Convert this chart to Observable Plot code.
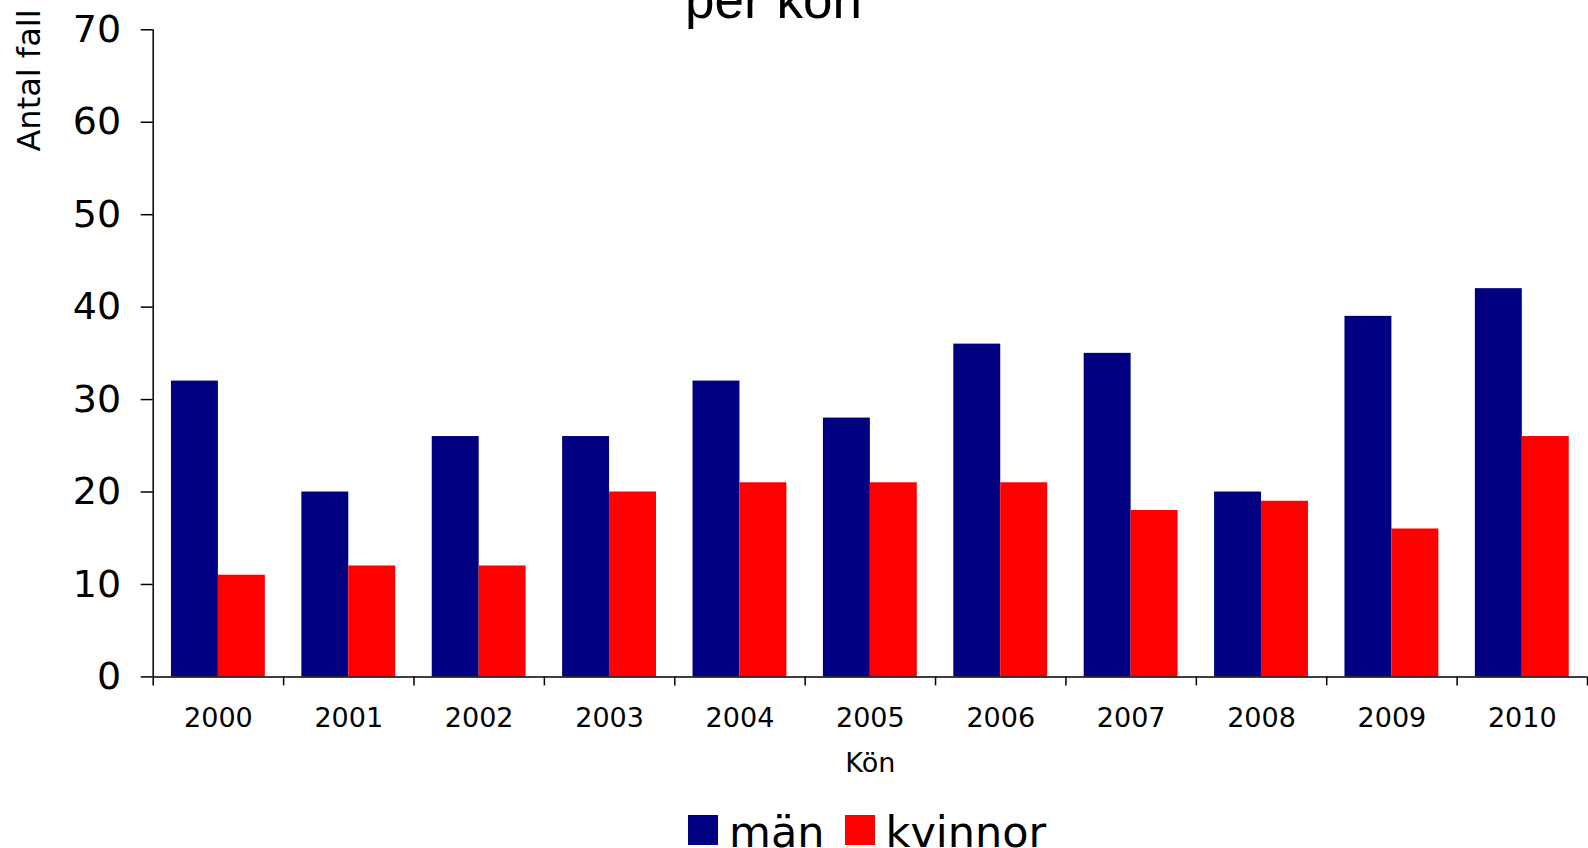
<!DOCTYPE html>
<html>
<head>
<meta charset="utf-8">
<script src="https://cdn.jsdelivr.net/npm/d3@7"></script>
<script src="https://cdn.jsdelivr.net/npm/@observablehq/plot@0.6"></script>
<style>
  html, body { margin: 0; padding: 0; background: #fff; overflow: hidden; }
  #wrap { position: relative; width: 1588px; height: 848px; overflow: hidden; }
  #title { position: absolute; left: 0; width: 1547px; top: -25px; text-align: center;
           font-family: "Liberation Sans", Arial, sans-serif; font-size: 53px; line-height: 50px; color: #000; }
  #chart { position: absolute; left: 0; top: 0; }
  #legend { position: absolute; left: 688px; top: 815px; display: flex; align-items: flex-start;
            font-family: "DejaVu Sans", Verdana, sans-serif; font-size: 43px; line-height: 44px; color: #000; }
  .sw { width: 30px; height: 30px; display: inline-block; }
  .lab { position: relative; top: -5px; margin-left: 11px; margin-right: 20px; }
</style>
</head>
<body>
<div id="wrap">
  <div id="chart"></div>
  <div id="title">per kön</div>
  <div id="legend"></div>
</div>
<script>
// ---- data ----
const years = [2000, 2001, 2002, 2003, 2004, 2005, 2006, 2007, 2008, 2009, 2010];
const series = ["män", "kvinnor"];
const colors = ["#000080", "#ff0000"];
const men   = [32, 20, 26, 26, 32, 28, 36, 35, 20, 39, 42];
const women = [11, 12, 12, 20, 21, 21, 21, 18, 19, 16, 26];
const yTicks = [0, 10, 20, 30, 40, 50, 60, 70];
const yLabel = "Antal fall";
const xLabel = "Kön";

// ---- build table ----
const values = [men, women];
const table = [];
series.forEach((s, si) => {
  years.forEach((yr, i) => table.push({year: yr, sex: s, si, value: values[si][i]}));
});
const barW = 0.36;
const boundaries = years.map(y => y - 0.5).concat([years[years.length - 1] + 0.5]);

const chart = Plot.plot({
  width: 1588,
  height: 800,
  marginTop: 29.3,
  marginBottom: 123.6,
  marginLeft: 152.7,
  marginRight: 1,
  style: {fontFamily: "DejaVu Sans, Verdana, sans-serif", fontSize: "38px", color: "#000", background: "#fff"},
  x: {type: "linear", domain: [boundaries[0], boundaries[boundaries.length - 1]]},
  y: {domain: [0, 70]},
  color: {domain: series, range: colors},
  marks: [
    Plot.rectY(table, {
      x1: d => d.year - barW + d.si * barW,
      x2: d => d.year + d.si * barW,
      y1: 0,
      y2: "value",
      fill: "sex"
    }),
    Plot.ruleY([0], {stroke: "#000", strokeWidth: 1.5}),
    Plot.ruleX([boundaries[0]], {stroke: "#000", strokeWidth: 1.5}),
    Plot.axisY({ticks: yTicks, tickSize: 12, tickPadding: 20, fontSize: 38, label: null, strokeWidth: 1.5}),
    Plot.axisX({ticks: boundaries, tickSize: 9, tickFormat: () => "", label: null, strokeWidth: 1.5}),
    Plot.text(years, {x: d => d, frameAnchor: "bottom", dy: 49.6, fontSize: 27, text: d => String(d)}),
    Plot.text([xLabel], {frameAnchor: "bottom", dy: 94.6, fontSize: 27}),
    Plot.text([yLabel], {frameAnchor: "top-left", rotate: -90, dx: -136, dy: 50.7, fontSize: 32, textAnchor: "middle"})
  ]
});
document.getElementById("chart").appendChild(chart);

// ---- legend ----
const legend = document.getElementById("legend");
series.forEach((s, i) => {
  const sw = document.createElement("span");
  sw.className = "sw";
  sw.style.background = colors[i];
  const lab = document.createElement("span");
  lab.className = "lab";
  lab.textContent = s;
  legend.appendChild(sw);
  legend.appendChild(lab);
});
</script>
</body>
</html>
